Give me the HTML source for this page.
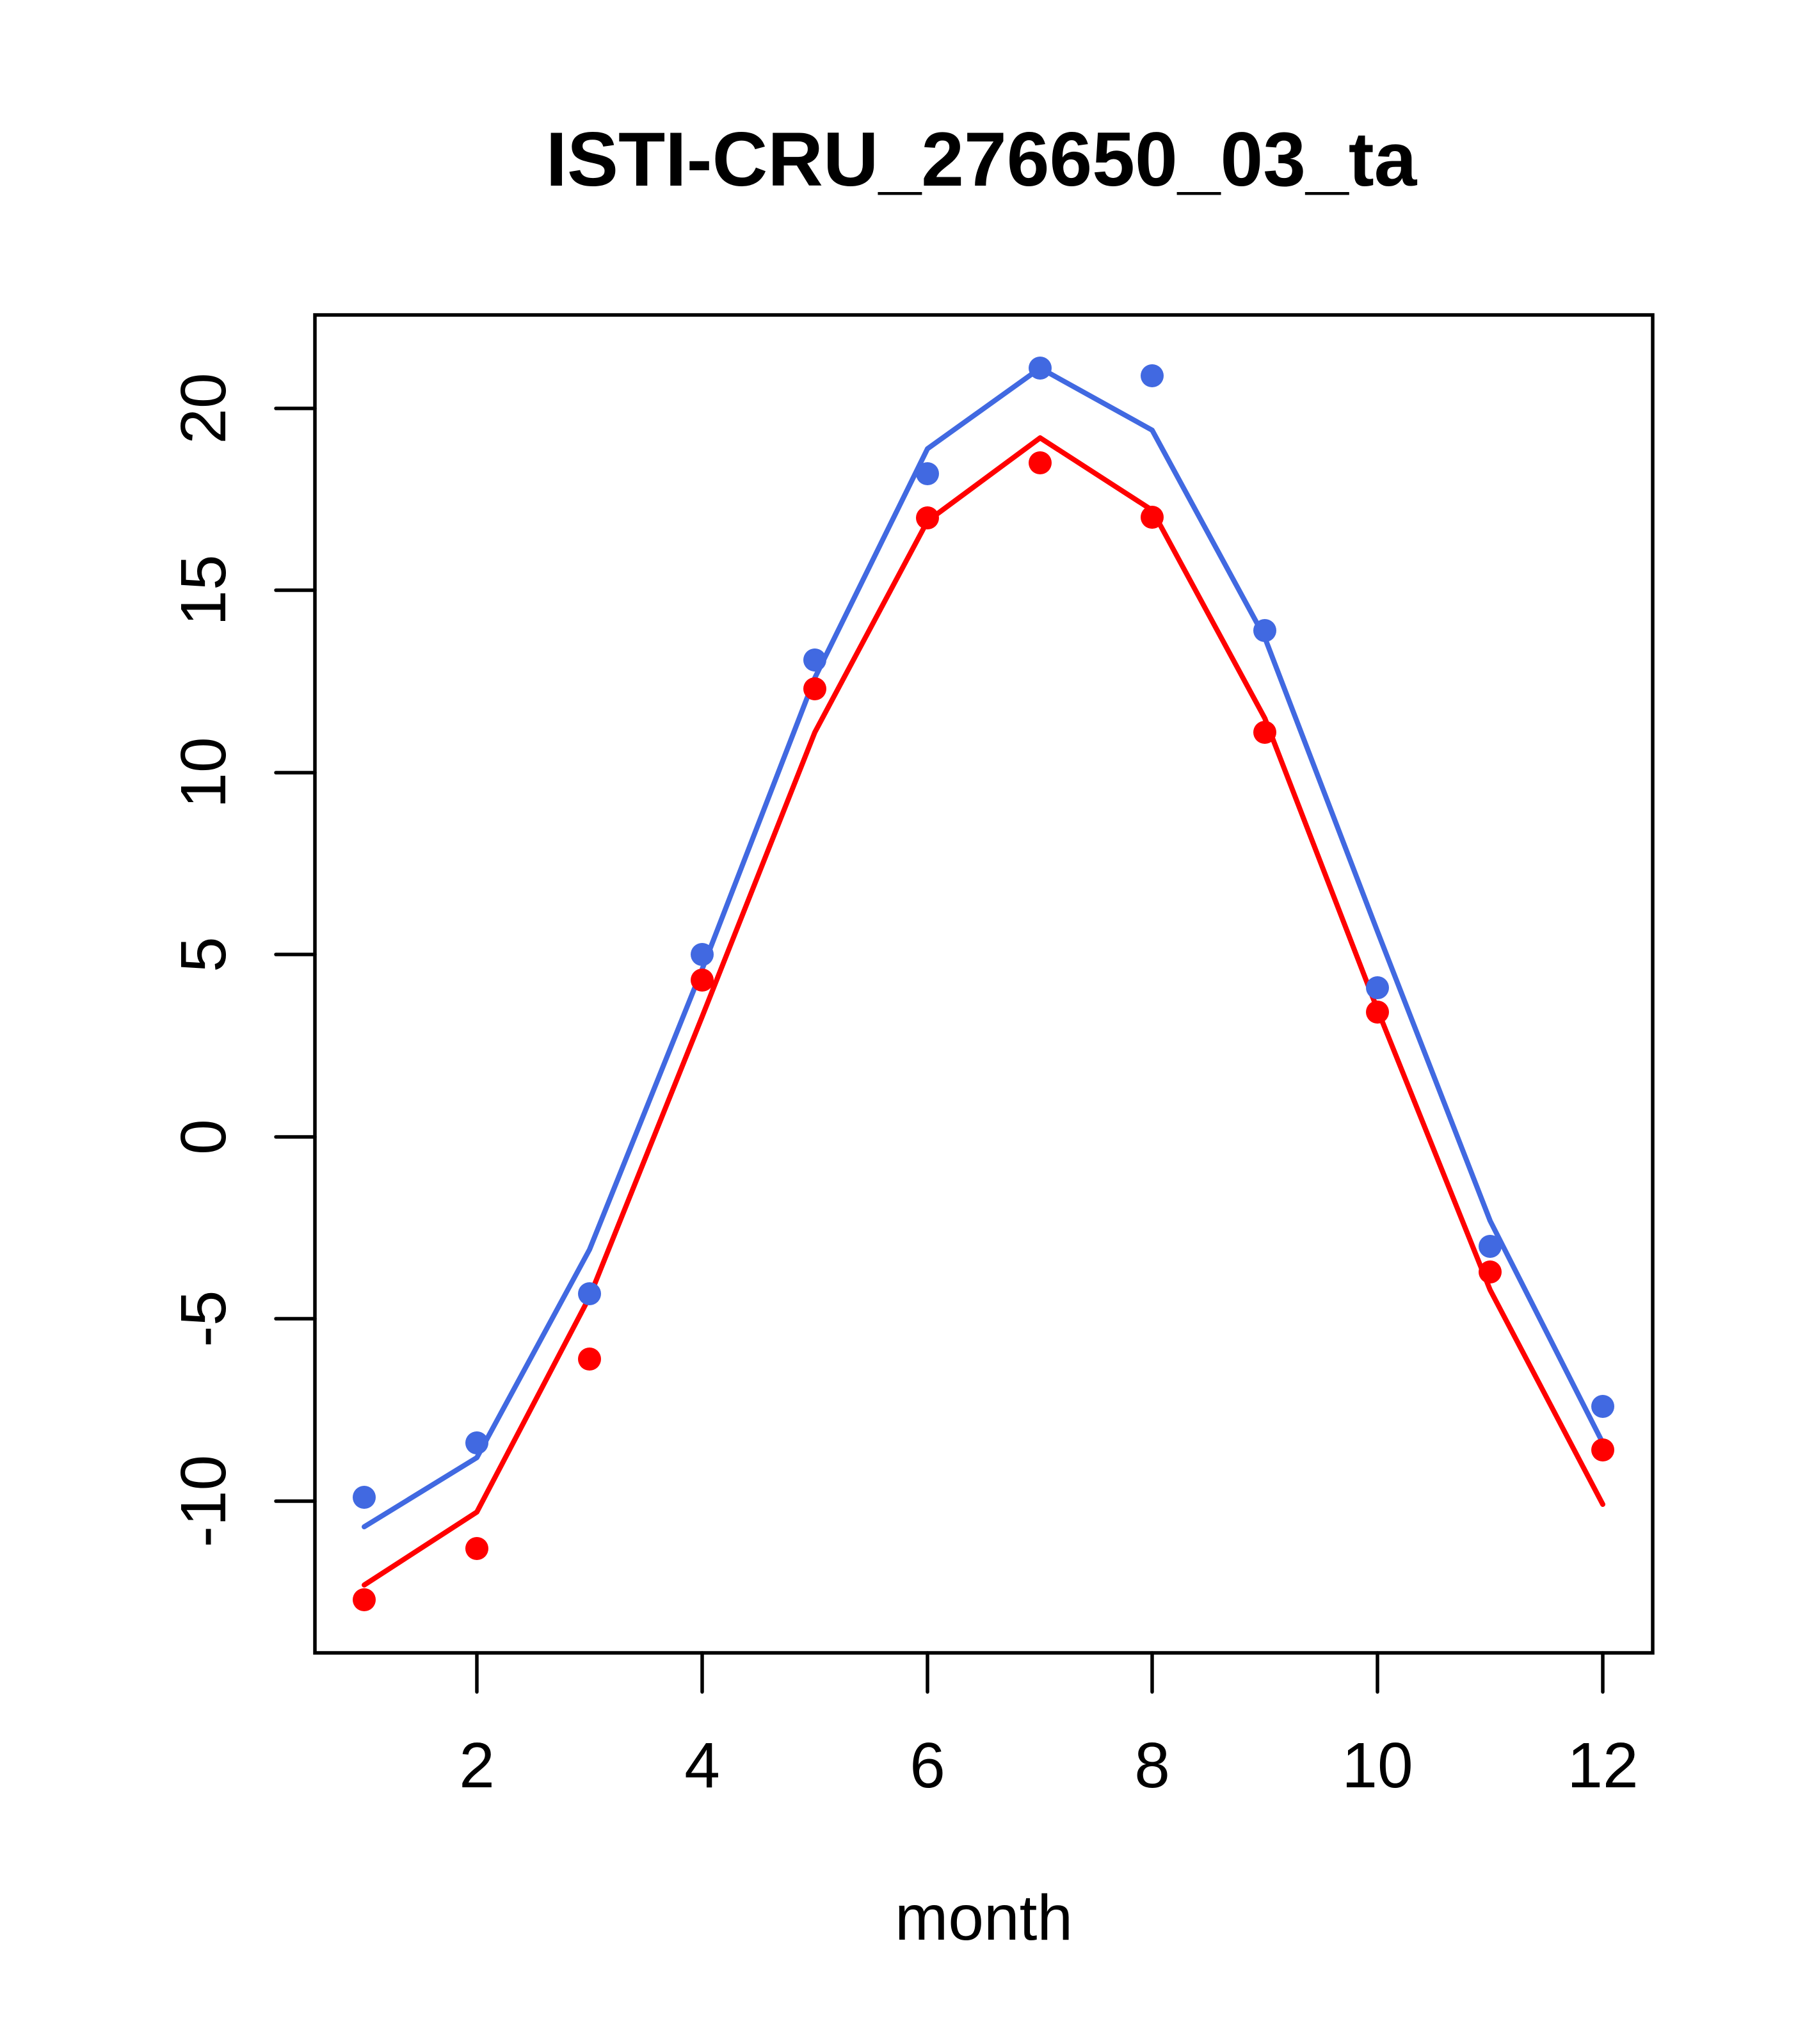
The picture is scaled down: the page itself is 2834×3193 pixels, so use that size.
<!DOCTYPE html>
<html><head><style>body{margin:0;background:#fff}</style></head><body>
<svg width="2834" height="3188" xmlns="http://www.w3.org/2000/svg" font-family="Liberation Sans, sans-serif">
<rect width="2834" height="3188" fill="#fff"/>
<text x="1533" y="290" font-size="120" font-weight="bold" text-anchor="middle">ISTI-CRU_276650_03_ta</text>
<rect x="492" y="492" width="2090" height="2090" fill="none" stroke="#000" stroke-width="5.5"/>
<g stroke="#000" stroke-width="5.5" stroke-linecap="round">
<line x1="745" y1="2582" x2="745" y2="2643"/><line x1="1097" y1="2582" x2="1097" y2="2643"/><line x1="1449" y1="2582" x2="1449" y2="2643"/><line x1="1800" y1="2582" x2="1800" y2="2643"/><line x1="2152" y1="2582" x2="2152" y2="2643"/><line x1="2504" y1="2582" x2="2504" y2="2643"/>
<line x1="492" y1="2345" x2="431" y2="2345"/><line x1="492" y1="2060" x2="431" y2="2060"/><line x1="492" y1="1776" x2="431" y2="1776"/><line x1="492" y1="1491" x2="431" y2="1491"/><line x1="492" y1="1207" x2="431" y2="1207"/><line x1="492" y1="922" x2="431" y2="922"/><line x1="492" y1="638" x2="431" y2="638"/>
</g>
<g font-size="100" text-anchor="middle">
<text x="745" y="2792">2</text><text x="1097" y="2792">4</text><text x="1449" y="2792">6</text><text x="1800" y="2792">8</text><text x="2152" y="2792">10</text><text x="2504" y="2792">12</text>
<text transform="translate(352,2345) rotate(-90)">-10</text>
<text transform="translate(352,2060) rotate(-90)">-5</text>
<text transform="translate(352,1776) rotate(-90)">0</text>
<text transform="translate(352,1491) rotate(-90)">5</text>
<text transform="translate(352,1207) rotate(-90)">10</text>
<text transform="translate(352,922) rotate(-90)">15</text>
<text transform="translate(352,638) rotate(-90)">20</text>
<text x="1537" y="3030">month</text>
</g>
<polyline fill="none" stroke="#4169E1" stroke-width="8" stroke-linecap="round" stroke-linejoin="round" points="569,2385 745,2277 921,1952 1097,1514 1273,1059 1449,701 1625,575 1800,672 1976,996 2152,1455 2328,1907 2504,2254"/>
<polyline fill="none" stroke="#FF0000" stroke-width="8" stroke-linecap="round" stroke-linejoin="round" points="569,2476 745,2362 921,2026 1097,1588 1273,1144 1449,814 1625,684 1800,797 1976,1122 2152,1577 2328,2015 2504,2350"/>
<g fill="#4169E1">
<circle cx="569" cy="2339" r="18"/><circle cx="745" cy="2254" r="18"/><circle cx="921" cy="2021" r="18"/><circle cx="1097" cy="1491" r="18"/><circle cx="1273" cy="1031" r="18"/><circle cx="1449" cy="740" r="18"/><circle cx="1625" cy="575" r="18"/><circle cx="1800" cy="587" r="18"/><circle cx="1976" cy="985" r="18"/><circle cx="2152" cy="1543" r="18"/><circle cx="2328" cy="1947" r="18"/><circle cx="2504" cy="2197" r="18"/>
</g>
<g fill="#FF0000">
<circle cx="569" cy="2499" r="18"/><circle cx="745" cy="2419" r="18"/><circle cx="921" cy="2123" r="18"/><circle cx="1097" cy="1531" r="18"/><circle cx="1273" cy="1076" r="18"/><circle cx="1449" cy="809" r="18"/><circle cx="1625" cy="723" r="18"/><circle cx="1800" cy="808" r="18"/><circle cx="1976" cy="1144" r="18"/><circle cx="2152" cy="1581" r="18"/><circle cx="2328" cy="1987" r="18"/><circle cx="2504" cy="2265" r="18"/>
</g>
</svg>
</body></html>
